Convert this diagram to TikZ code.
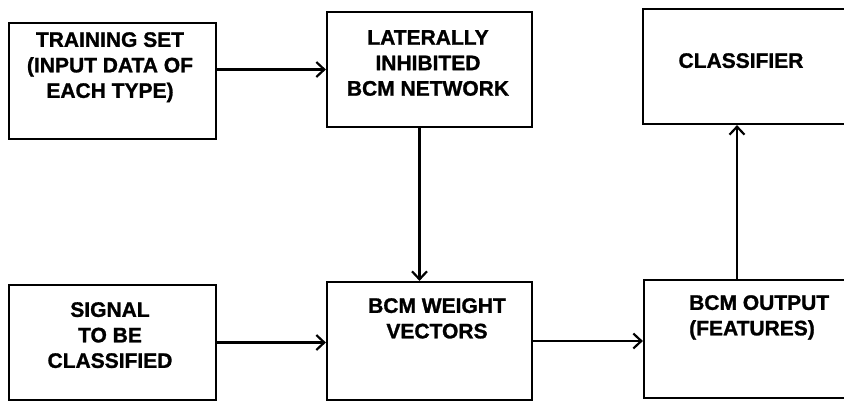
\documentclass[tikz,border=0pt]{standalone}
\usepackage{fontspec}
\setmainfont{Liberation Sans}[BoldFeatures={FakeBold=1.2}]
\usetikzlibrary{arrows.meta}
\begin{document}
\begin{tikzpicture}[x=1pt,y=-1pt,
  box/.style={draw,line width=2.2pt,inner sep=0pt},
  lbl/.style={inner sep=0pt,anchor=north,align=center,font=\bfseries\fontsize{21}{25.5}\selectfont},
  arr/.style={line width=2.2pt,-{Straight Barb[length=8pt,width=15pt,line width=2.2pt]}}]
\useasboundingbox (0,0) rectangle (844,402);
\clip (0,0) rectangle (844,402);
\node[box,minimum width=207pt,minimum height=116pt] (b1) at (112.5,81) {};
\node[box,minimum width=205pt,minimum height=115pt] (b2) at (429.5,69.5) {};
\node[box,minimum width=207pt,minimum height=115pt] (b3) at (746.5,66.5) {};
\node[box,minimum width=207pt,minimum height=115pt] (b4) at (112.5,342.5) {};
\node[box,minimum width=205pt,minimum height=118pt] (b5) at (429.5,341) {};
\node[box,minimum width=206pt,minimum height=118pt] (b6) at (747,339) {};
\node[lbl] (t1) at (110,32) {TRAINING SET\\(INPUT DATA OF\\EACH TYPE)};
\node[lbl] (t2) at (428,30) {LATERALLY\\INHIBITED\\BCM NETWORK};
\node[lbl] (t3) at (741,53) {CLASSIFIER};
\node[lbl] (t4) at (110,302) {SIGNAL\\TO BE\\CLASSIFIED};
\node[lbl] (t5) at (437,298) {BCM WEIGHT\\VECTORS};
\node[lbl,anchor=north west,align=left] (t6) at (689,295) {BCM OUTPUT\\(FEATURES)};
\draw[arr] (b1.east |- b2.west) -- (b2.west);
\draw[arr] ([xshift=-10pt]b2.south) -- ([xshift=-10pt]b5.north);
\draw[arr] (b4.east) -- (b4.east -| b5.west);
\draw[arr] (b5.east) -- (b5.east -| b6.west);
\draw[arr] ([xshift=-10pt]b6.north) -- ([xshift=-10pt]b6.north |- b3.south);
\end{tikzpicture}
\end{document}
